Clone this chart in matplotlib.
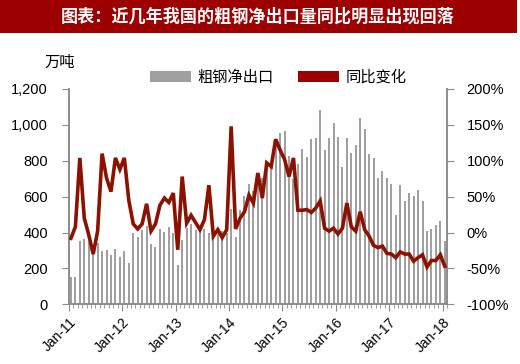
import numpy as np
import matplotlib
matplotlib.use('Agg')
import matplotlib.pyplot as plt
from matplotlib.patches import Patch, Rectangle

plt.rcParams['font.family'] = ['Liberation Sans', 'Noto Sans CJK SC', 'DejaVu Sans']

# monthly data, Jan-11 .. Jan-18
net_export = [150, 150, 355, 362, 350, 290, 340, 298, 305, 275, 308, 265,
              298, 228, 398, 373, 412, 435, 335, 320, 420, 405, 430, 400,
              218, 360, 428, 450, 412, 410, 420, 400, 380, 392, 410, 400,
              530, 375, 526, 605, 670, 632, 700, 702, 790, 782, 903, 953,
              967, 825, 700, 784, 867, 823, 923, 927, 1085, 862, 927, 1008,
              931, 768, 925, 843, 886, 1039, 978, 840, 816, 704, 745, 704,
              670, 495, 663, 577, 620, 601, 635, 577, 410, 421, 443, 467,
              354]
yoy = [-8, 8, 104, 20, -3, -30, 2, 110, 76, 57, 104, 88,
       104, 45, 12, 5, 12, 40, 2, 12, 38, 48, 42, 55,
       -24, 78, 13, 24, 14, 4, 18, 66, -5, 4, -7, 4,
       148, 5, 20, 29, 52, 41, 83, 48, 97, 92, 130, 115,
       102, 78, 104, 31, 31, 32, 28, 34, 44, 6, 2, 6,
       -2, 6, 41, 8, 2, 29, 4, -5, -18, -21, -19, -29,
       -30, -35, -27, -30, -30, -40, -35, -31, -48, -39, -39, -31,
       -47]
year_labels = ['Jan-11', 'Jan-12', 'Jan-13', 'Jan-14', 'Jan-15', 'Jan-16', 'Jan-17', 'Jan-18']

title = '图表：近几年我国的粗钢净出口量同比明显出现回落'
dark_red = '#9C0000'
line_red = '#8B1200'
bar_gray = '#A0A0A0'
axis_gray = '#8C8C8C'

fig = plt.figure(figsize=(5.2, 3.64), dpi=100)

# title banner
fig.patches.append(Rectangle((0, 1 - 33 / 364), 517 / 520, 33 / 364, transform=fig.transFigure,
                             facecolor=dark_red, edgecolor='none', zorder=0))
fig.text(258 / 520, 1 - 17 / 364, title, color='white', fontsize=12.3, fontweight='bold',
         family=['Noto Sans CJK SC'], ha='center', va='center')

ax = fig.add_axes([68.7 / 520, 1 - 304.3 / 364, (447 - 68.7) / 520, (304.3 - 89) / 364])
ax2 = ax.twinx()

x = np.arange(len(net_export))
ax.bar(x, net_export, width=0.45, color=bar_gray, zorder=2)
ax2.plot(x, yoy, color=line_red, lw=2.6, solid_joinstyle='miter', zorder=3)

ax.set_xlim(-0.5, 84.5)
ax.set_ylim(0, 1200)
ax2.set_ylim(-100, 200)
ax.set_yticks(np.arange(0, 1201, 200))
ax.set_yticklabels([f'{v:,}' for v in range(0, 1201, 200)])
ax2.set_yticks(np.arange(-100, 201, 50))
ax2.set_yticklabels([f'{v}%' for v in range(-100, 201, 50)])

ax.set_xticks(np.arange(-0.5, 85, 12))
ax.set_xticklabels(year_labels, rotation=45, ha='right', rotation_mode='anchor')
ax.set_xticks(np.arange(-0.5, 85, 1), minor=True)

for a in (ax, ax2):
    a.spines['top'].set_visible(False)
    for s in ('left', 'right', 'bottom'):
        a.spines[s].set_color(axis_gray)
        a.spines[s].set_linewidth(1.2)
ax.tick_params(axis='x', which='major', length=5, color=axis_gray, labelsize=10, pad=3)
ax.tick_params(axis='x', which='minor', length=3, color=axis_gray)
ax.tick_params(axis='y', length=5, color=axis_gray, labelsize=10.5, pad=10)
ax2.tick_params(axis='y', length=5, color=axis_gray, labelsize=10.5, pad=9)

fig.text(60 / 520, 1 - 62 / 364, '万吨', fontsize=11, family=['Noto Sans CJK SC'],
         ha='center', va='center')

handles = [Patch(facecolor=bar_gray, edgecolor='none'), Patch(facecolor=dark_red, edgecolor='none')]
fig.legend(handles, ['粗钢净出口', '同比变化'], ncol=2, frameon=False,
           loc='center left', bbox_to_anchor=(150 / 520, 1 - 77 / 364),
           prop={'family': 'Noto Sans CJK SC', 'size': 11},
           handlelength=2.7, handleheight=0.7, handletextpad=0.4, columnspacing=1.6,
           borderaxespad=0, borderpad=0)

fig.savefig('out.png', dpi=100)
